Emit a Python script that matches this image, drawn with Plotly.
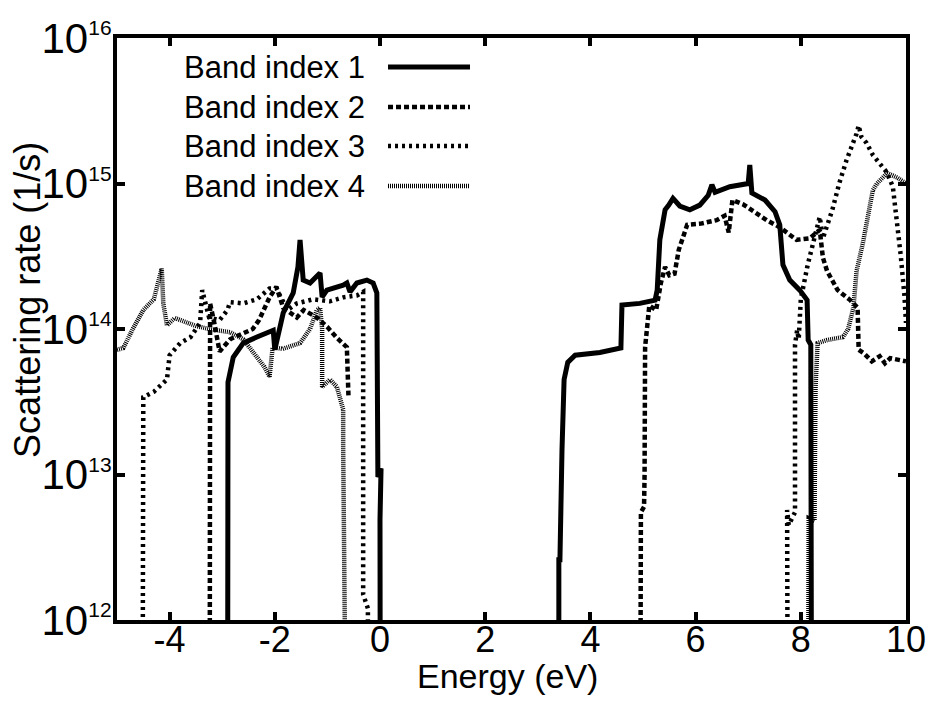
import plotly.graph_objects as go

# ---------------- data ----------------
band_names = ["Band index 1", "Band index 2", "Band index 3", "Band index 4"]

band1_x = [-2.90, -2.89, -2.79, -2.60, -2.34, -2.03, -2.00, -1.84, -1.65, -1.56, -1.52, -1.46,
           -1.33, -1.14, -1.10, -1.01, -0.70, -0.63, -0.57, -0.44, -0.25, -0.13, -0.06, -0.04,
           0.02, 0.00, 0.01, None,
           3.40, 3.40, 3.42, 3.46, 3.50, 3.57, 3.71, 4.18, 4.58, 4.60, 4.94, 5.23, 5.27, 5.32,
           5.42, 5.49, 5.57, 5.70, 5.89, 6.08, 6.24, 6.31, 6.37, 6.65, 7.00, 7.03, 7.07, 7.32,
           7.51, 7.60, 7.66, 7.79, 7.98, 8.12, 8.14, 8.19, 8.21]
band1_y = [1e10, 4.3e13, 6.4e13, 8.0e13, 8.8e13, 9.8e13, 7.2e13, 1.29e14, 1.77e14, 2.67e14, 4.1e14, 2.17e14,
           2.07e14, 2.43e14, 1.66e14, 1.85e14, 2.0e14, 2.07e14, 1.8e14, 2.07e14, 2.17e14, 2.07e14, 1.77e14, 9.6e12,
           1.1e13, 4.9e12, 1e10, None,
           1e10, 2.7e12, 2.5e12, 1.48e13, 4.5e13, 5.9e13, 6.6e13, 6.9e13, 7.4e13, 1.46e14, 1.5e14, 1.58e14, 1.85e14, 4.1e14,
           6.6e14, 7.1e14, 7.9e14, 7.0e14, 6.6e14, 7.1e14, 8.3e14, 9.8e14, 8.7e14, 9.5e14, 1.0e15, 1.34e15, 8.6e14, 7.7e14,
           6.4e14, 5.2e14, 2.76e14, 2.17e14, 1.85e14, 1.58e14, 8.4e13, 7.8e13, 1e10]

band2_x = [-3.24, -3.23, -3.15, -3.05, -2.85, -2.60, -2.42, -2.30, -2.22, -2.10, -1.97, -1.84,
           -1.58, -1.45, -1.20, -1.00, -0.82, -0.63, -0.60, None,
           4.94, 4.94, 4.96, 5.02, 5.03, 5.04, 5.08, 5.12, 5.25, 5.34, 5.42, 5.50, 5.60, 5.68,
           5.84, 6.10, 6.40, 6.55, 6.63, 6.70, 6.90, 7.06, 7.35, 7.60, 7.92, 8.17, 8.36, 8.42,
           8.50, 8.70, 8.94, 9.08, 9.10, 9.20, 9.35, 9.50, 9.60, 9.70, 9.85, 10.0]
band2_y = [1e10, 1.5e14, 1.1e14, 7.0e13, 8.5e13, 9.4e13, 1.0e14, 1.15e14, 1.35e14, 1.65e14, 1.95e14, 1.4e14,
           1.2e14, 1.35e14, 1.2e14, 1.03e14, 8.7e13, 7.5e13, 3.5e13, None,
           1e10, 4.0e12, 5.5e12, 6.0e12, 1.0e13, 7.5e13, 1.05e14, 1.45e14, 1.35e14, 2.07e14, 2.67e14, 2.34e14, 2.4e14, 3.5e14,
           5.2e14, 5.3e14, 5.6e14, 6.0e14, 4.6e14, 7.7e14, 7.2e14, 6.6e14, 5.6e14, 5.0e14, 4.1e14, 4.2e14, 4.8e14, 3.1e14,
           2.5e14, 1.85e14, 1.58e14, 1.4e14, 7.2e13, 6.8e13, 6.0e13, 6.5e13, 5.8e13, 6.3e13, 6.1e13, 6.0e13]

band3_x = [-4.52, -4.50, -4.30, -4.05, -4.00, -3.80, -3.60, -3.42, -3.38, -3.25, -3.05, -2.90,
           -2.85, -2.60, -2.34, -2.10, -1.97, -1.76, -1.58, -1.27, -0.95, -0.70, -0.44, -0.32,
           -0.32, -0.32, -0.23, -0.22, None,
           7.76, 7.76, 7.74, 7.77, 7.89, 7.89, 7.93, 7.96, 8.00, 8.13, 8.25, 8.36, 8.42, 8.60,
           8.73, 8.87, 9.06, 9.10, 9.15, 9.25, 9.37, 9.63, 9.75, 9.83, 9.90, 9.97, 10.0]
band3_y = [1e10, 3.4e13, 3.7e13, 4.5e13, 6.6e13, 8.0e13, 8.8e13, 1.1e14, 1.85e14, 1.2e14, 1.15e14, 1.35e14,
           1.53e14, 1.5e14, 1.6e14, 1.9e14, 1.9e14, 1.35e14, 1.5e14, 1.6e14, 1.55e14, 1.65e14, 1.7e14, 1.8e14,
           5.0e13, 1.5e12, 1.2e12, 1e10, None,
           1e10, 3.8e12, 5.7e12, 4.5e12, 5.5e12, 7.8e13, 9.8e13, 8.5e13, 1.6e14, 2.75e14, 4.1e14, 5.9e14, 4.2e14, 6.6e14,
           1.0e15, 1.45e15, 2.2e15, 2.5e15, 2.1e15, 1.9e15, 1.57e15, 1.2e15, 9.5e14, 5.5e14, 3.2e14, 1.7e14, 1.1e14]

band4_x = [-5.00, -4.88, -4.70, -4.50, -4.30, -4.15, -4.12, -4.05, -3.90, -3.50, -3.25, -2.85,
           -2.60, -2.34, -2.20, -2.10, -2.04, -1.85, -1.52, -1.33, -1.20, -1.14, -1.10, -1.10,
           -0.95, -0.82, -0.70, -0.70, -0.67, -0.62, None,
           8.13, 8.13, 8.15, 8.26, 8.27, 8.28, 8.32, 8.50, 8.80, 8.90, 9.00, 9.06, 9.18, 9.26,
           9.37, 9.45, 9.64, 9.83, 10.0]
band4_y = [7.2e13, 7.4e13, 1.0e14, 1.35e14, 1.6e14, 2.6e14, 1.5e14, 1.06e14, 1.19e14, 1.05e14, 1.0e14, 9.5e13,
           8.5e13, 6.4e13, 5.5e13, 4.7e13, 7.5e13, 7.3e13, 8.0e13, 1.0e14, 1.35e14, 1.4e14, 1.0e14, 4.0e13,
           4.5e13, 4.0e13, 2.8e13, 1.55e13, 2.3e12, 1e10, None,
           1e10, 4.2e12, 5.0e12, 4.8e12, 1.8e13, 4.0e13, 8.0e13, 8.4e13, 8.8e13, 1.0e14, 1.4e14, 2.5e14, 3.9e14, 5.6e14,
           9.0e14, 1.0e15, 1.18e15, 1.1e15, 1.0e15]

x_tick_vals = [-4, -2, 0, 2, 4, 6, 8, 10]
x_tick_text = ["-4", "-2", "0", "2", "4", "6", "8", "10"]
y_tick_vals = [1e12, 1e13, 1e14, 1e15, 1e16]
y_exponents = ["12", "13", "14", "15", "16"]
x_title = "Energy (eV)"
y_title = "Scattering rate (1/s)"

# ---------------- styles ----------------
LW = 4.5
styles = [
    dict(color="black", width=LW + 0.5, dash="solid"),
    dict(color="black", width=LW, dash="5px,3px"),
    dict(color="black", width=LW, dash="3px,4px"),
    dict(color="black", width=LW, dash="1px,1px"),
]
FONT = "Liberation Sans, Arial, Helvetica, sans-serif"
y_tick_text = ["10<sup><span style=\"font-size:21px\">%s</span></sup>" % e for e in y_exponents]

fig = go.Figure()
series = [(band1_x, band1_y), (band2_x, band2_y), (band3_x, band3_y), (band4_x, band4_y)]
for name, (xs, ys), st in zip(band_names, series, styles):
    fig.add_trace(go.Scatter(x=xs, y=ys, mode="lines", name=name, line=st,
                             connectgaps=False, showlegend=False))

# ---------------- manual legend (text left, sample line right) ----------------
leg_y = [0.950, 0.8814, 0.8144, 0.7457]
for name, st, yy in zip(band_names, styles, leg_y):
    fig.add_annotation(x=0.0837, y=yy, xref="paper", yref="paper", text=name,
                       showarrow=False, xanchor="left", yanchor="middle", borderpad=0,
                       font=dict(family=FONT, size=31, color="black"))
    fig.add_shape(type="line", xref="paper", yref="paper", x0=0.3435, x1=0.4474,
                  y0=yy, y1=yy, line=st)

# axis titles as annotations (exact placement)
fig.add_annotation(x=0.495, y=-0.097, xref="paper", yref="paper", text=x_title,
                   showarrow=False, xanchor="center", yanchor="middle",
                   font=dict(family=FONT, size=34, color="black"))
fig.add_annotation(x=-0.1128, y=0.55, xref="paper", yref="paper", text=y_title,
                   showarrow=False, xanchor="center", yanchor="middle", textangle=-90,
                   font=dict(family=FONT, size=36, color="black"))

fig.update_layout(
    width=926, height=705,
    margin=dict(l=117, r=20, t=38, b=85),
    paper_bgcolor="white", plot_bgcolor="white",
    showlegend=False,
)
fig.update_xaxes(
    range=[-5, 10], tickvals=x_tick_vals, ticktext=x_tick_text, ticks="inside", ticklen=8, tickwidth=4,
    tickcolor="black", showline=True, linewidth=4, linecolor="black", mirror="allticks",
    showgrid=False, zeroline=False, automargin=False, ticklabeloverflow="allow",
    ticklabelstandoff=-15,
    tickfont=dict(family=FONT, size=36, color="black"),
)
fig.update_yaxes(
    type="log", range=[12, 16], tickvals=y_tick_vals, ticktext=y_tick_text,
    ticks="inside", ticklen=8, tickwidth=4,
    tickcolor="black", showline=True, linewidth=4, linecolor="black", mirror="allticks",
    showgrid=False, zeroline=False, automargin=False, ticklabeloverflow="allow",
    ticklabelstandoff=-7,
    tickfont=dict(family=FONT, size=42, color="black"),
)

fig.write_html("out.html")
